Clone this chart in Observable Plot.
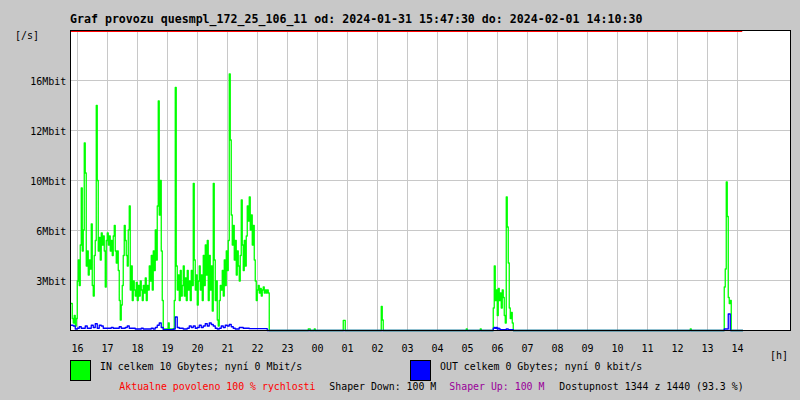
<!DOCTYPE html>
<html><head><meta charset="utf-8">
<script src="https://cdn.jsdelivr.net/npm/d3@7"></script>
<script src="https://cdn.jsdelivr.net/npm/@observablehq/plot@0.6"></script>
<style>
html,body{margin:0;padding:0;background:#c8c8c8;}
#wrap{position:relative;width:800px;height:400px;overflow:hidden;}
#wrap svg{position:absolute;left:0;top:0;}
</style></head><body><div id="wrap"></div>
<script>
// ---- texts ----
const titleText = "Graf provozu quesmpl_172_25_106_11 od: 2024-01-31 15:47:30 do: 2024-02-01 14:10:30";
const yUnitLabel = "[/s]";
const xUnitLabel = "[h]";
const inLegend = "IN celkem 10 Gbytes; nyní 0 Mbit/s";
const outLegend = "OUT celkem 0 Gbytes; nyní 0 kbit/s";
const footerTexts = ["Aktualne povoleno 100 % rychlosti", "Shaper Down: 100 M", "Shaper Up: 100 M", "Dostupnost 1344 z 1440 (93.3 %)"];

// ---- time window ----
const periodStart = "2024-01-31T15:47:30";
const periodEnd = "2024-02-01T14:10:30";
const windowEnd = "2024-02-01T15:47:30";
const yMax = 20;

// ---- ticks ----
const hourLabels = ["16","17","18","19","20","21","22","23","00","01","02","03","04","05","06","07","08","09","10","11","12","13","14"];
const yTickValues = [10/3, 20/3, 10, 40/3, 50/3];
const yTickLabels = ["3Mbit","6Mbit","10Mbit","12Mbit","16Mbit"];

// ---- IN traffic (Mbit/s), 2-minute samples ----
const inEveningStart = "2024-01-31T15:47:30";
const inEvening = [1.8,0.8,0.5,1.0,0.3,0.8,3.3,4.7,3.0,5.7,9.5,5.3,6.7,12.5,10.5,4.3,5.3,3.7,4.7,4.1,
  7.1,3.0,2.3,5.0,6.0,15.0,10.0,5.3,6.2,4.7,6.5,5.7,6.3,5.3,2.9,6.0,6.5,5.7,6.3,5.3,
  6.0,5.0,6.3,7.0,5.3,4.5,5.3,4.0,2.0,0.7,1.7,3.0,5.0,7.0,6.0,5.0,4.3,6.7,8.3,2.7,
  4.3,2.0,3.3,2.7,2.3,3.2,2.0,3.0,2.3,3.3,2.7,2.0,3.0,2.5,3.5,2.0,3.0,2.7,4.3,3.3,
  5.0,2.7,5.3,4.0,6.7,4.7,8.3,15.3,7.7,10.0,5.3,2.0,0.1,0.1,0.1,0.1,0.1,0.5,0.1,0.1,
  0.1,0.1,0.1,2.0,16.2,4.3,2.7,3.7,2.0,4.0,2.3,3.0,4.3,2.3,3.5,2.0,4.0,2.7,3.3,2.0,
  4.0,3.0,9.8,4.7,2.7,3.7,1.7,3.3,4.3,2.7,3.7,2.0,5.0,3.0,5.7,3.7,6.0,2.0,5.0,2.7,
  4.3,1.3,9.8,4.7,2.0,3.3,0.7,0.3,2.0,3.0,2.7,4.0,2.3,4.7,3.0,5.3,4.0,6.0,17.1,12.7,
  7.7,5.7,7.0,4.7,6.0,3.7,5.3,4.3,3.3,5.0,8.7,5.7,4.0,6.0,4.3,6.3,8.3,7.3,8.9,6.7,
  7.7,5.7,7.0,4.7,3.3,2.0,2.7,3.0,2.5,2.8,2.3,2.7,2.9,2.5,2.7,2.5,2.7,2.5,0];
const inMorningStart = "2024-02-01T05:51:30";
const inMorning = [1.5,4.3,2.0,2.7,1.0,2.8,2.0,2.5,1.5,2.7,2.2,1.0,0.5,8.9,6.9,4.5,1.5,0.8,1.2,0.5,0];
const inAfternoonStart = "2024-02-01T13:33:30";
const inAfternoon = [2.9,4.1,9.9,7.6,2.2,1.8,2.0,0];
const inBlipTimes = ["2024-01-31T23:41:30","2024-01-31T23:43:30","2024-01-31T23:53:30","2024-02-01T00:51:30","2024-02-01T00:53:30","2024-02-01T02:07:30","2024-02-01T02:09:30","2024-02-01T04:57:30","2024-02-01T05:25:30","2024-02-01T12:25:30"];
const inBlipValues = [0.1,0.1,0.1,0.67,0.67,1.6,0.7,0.1,0.1,0.1];

// ---- OUT traffic (Mbit/s) ----
const outEveningStart = "2024-01-31T15:47:30"; // 4-minute samples
const outEvening = [0.35,0.3,0.1,0.15,0.25,0.15,0.15,0.3,0.15,0.15,0.35,0.2,0.45,0.15,0.35,0.3,0.15,0.15,0.15,0.15,
  0.2,0.15,0.15,0.15,0.25,0.15,0.15,0.2,0.3,0.15,0.15,0.15,0.1,0.1,0.1,0.15,0.1,0.1,0.1,0.1,
  0.15,0.1,0.2,0.35,0.5,0.2,0.05,0.05,0.05,0.05,0.05,0.1,0.9,0.2,0.15,0.15,0.1,0.1,0.15,0.3,
  0.2,0.3,0.15,0.2,0.35,0.2,0.3,0.45,0.3,0.5,0.4,0.3,0.15,0.1,0.15,0.3,0.2,0.35,0.3,0.4,
  0.25,0.15,0.1,0.1,0.2,0.2,0.15,0.15,0.15,0.12,0.12,0.12,0.12,0.12,0.12,0.12,0.12,0.12,0];
const outMorningStart = "2024-02-01T05:51:30"; // 2-minute samples
const outMorning = [0.15,0.2,0.15,0.2,0.1,0.15,0.1,0.05,0.05,0.05,0.05,0.05,0.05,0.1,0.1,0.05,0.05,0.05,0.05,0.05,0];
const outAfternoonStart = "2024-02-01T13:33:30"; // 2-minute samples
const outAfternoon = [0.1,0.1,0.1,0.1,1.1,1.1,0];

// ---- build step series ----
const MIN = 60000;
function block(startIso, stepMin, values) {
  const t0 = new Date(startIso).getTime();
  return values.map((v, i) => ({t: t0 + i * stepMin * MIN, v, step: stepMin}));
}
function toLine(samples, series) {
  samples.sort((a, b) => a.t - b.t);
  const pts = [];
  samples.forEach((s, i) => {
    pts.push({t: new Date(s.t), v: s.v, series});
    const end = s.t + s.step * MIN;
    const next = samples[i + 1];
    if (!next || next.t > end) pts.push({t: new Date(end), v: 0, series});
  });
  pts.push({t: new Date(periodEnd), v: 0, series});
  return pts;
}
const inSamples = [
  ...block(inEveningStart, 2, inEvening),
  ...block(inMorningStart, 2, inMorning),
  ...block(inAfternoonStart, 2, inAfternoon),
  ...inBlipTimes.map((t, i) => ({t: new Date(t).getTime(), v: inBlipValues[i], step: 2}))
];
const outSamples = [
  ...block(outEveningStart, 4, outEvening),
  ...block(outMorningStart, 2, outMorning),
  ...block(outAfternoonStart, 2, outAfternoon)
];
const inLine = toLine(inSamples, "IN");
const outLine = toLine(outSamples, "OUT");

const hourTicks = hourLabels.map(h => {
  const hh = +h;
  return new Date((hh >= 16 ? "2024-01-31T" : "2024-02-01T") + h + ":00:00");
});

const font = "DejaVu Sans Mono";
const chart = Plot.plot({
  width: 800,
  height: 400,
  marginLeft: 70.75,
  marginRight: 9.25,
  marginTop: 30,
  marginBottom: 70,
  style: {background: "#c8c8c8", fontFamily: font, fontSize: "10px", color: "black"},
  x: {type: "time", domain: [new Date(periodStart), new Date(windowEnd)], label: null},
  y: {domain: [0, yMax], label: null},
  marks: [
    Plot.frame({fill: "white", insetLeft: -0.75, insetRight: 0.75}),
    Plot.gridX(hourTicks, {stroke: "#c8c8c8", strokeOpacity: 1}),
    Plot.gridY(yTickValues, {stroke: "#c8c8c8", strokeOpacity: 1, insetLeft: -0.75, insetRight: 0.75}),
    Plot.line(inLine, {x: "t", y: "v", curve: "step-after", stroke: "#00ff00", strokeWidth: 1.3}),
    Plot.line(outLine, {x: "t", y: "v", curve: "step-after", stroke: "#0000ff", strokeWidth: 1.3}),
    Plot.ruleY([yMax], {x1: new Date(periodStart), x2: new Date(periodEnd), stroke: "red", dy: 1}),
    Plot.frame({stroke: "black", insetLeft: -0.75, insetRight: 0.75}),
    Plot.axisY({ticks: yTickValues, tickFormat: d => yTickLabels[yTickValues.findIndex(v => Math.abs(v - d) < 1e-6)], tickSize: 0, tickPadding: 5, dy: 1.5, label: null}),
    Plot.axisX({ticks: hourTicks, tickFormat: d => hourLabels[hourTicks.findIndex(v => +v === +d)], tickSize: 0, tickPadding: 14, label: null})
  ]
});
document.getElementById("wrap").appendChild(chart);

// ---- title, unit labels and legend ----
const ov = d3.select("#wrap").append("svg")
  .attr("width", 800).attr("height", 400)
  .style("font-family", font);
ov.append("text").attr("x", 70).attr("y", 23).attr("font-weight", "bold").attr("font-size", "11.6px").text(titleText);
ov.append("text").attr("x", 15).attr("y", 39).attr("font-size", "10px").text(yUnitLabel);
ov.append("text").attr("x", 770).attr("y", 359).attr("font-size", "10px").text(xUnitLabel);
ov.append("rect").attr("x", 70.5).attr("y", 360.5).attr("width", 20).attr("height", 20).attr("fill", "#00ff00").attr("stroke", "black");
ov.append("text").attr("x", 100).attr("y", 370).attr("font-size", "9.9px").text(inLegend);
ov.append("rect").attr("x", 410.5).attr("y", 360.5).attr("width", 20).attr("height", 20).attr("fill", "#0000ff").attr("stroke", "black");
ov.append("text").attr("x", 440).attr("y", 370).attr("font-size", "9.9px").text(outLegend);
const footerX = [119.3, 329.3, 449.3, 559.3];
const footerColors = ["#ff0000", "black", "#990099", "black"];
footerTexts.forEach((t, i) => {
  ov.append("text").attr("x", footerX[i]).attr("y", 390).attr("font-size", "9.9px").attr("fill", footerColors[i]).text(t);
});
</script></body></html>
